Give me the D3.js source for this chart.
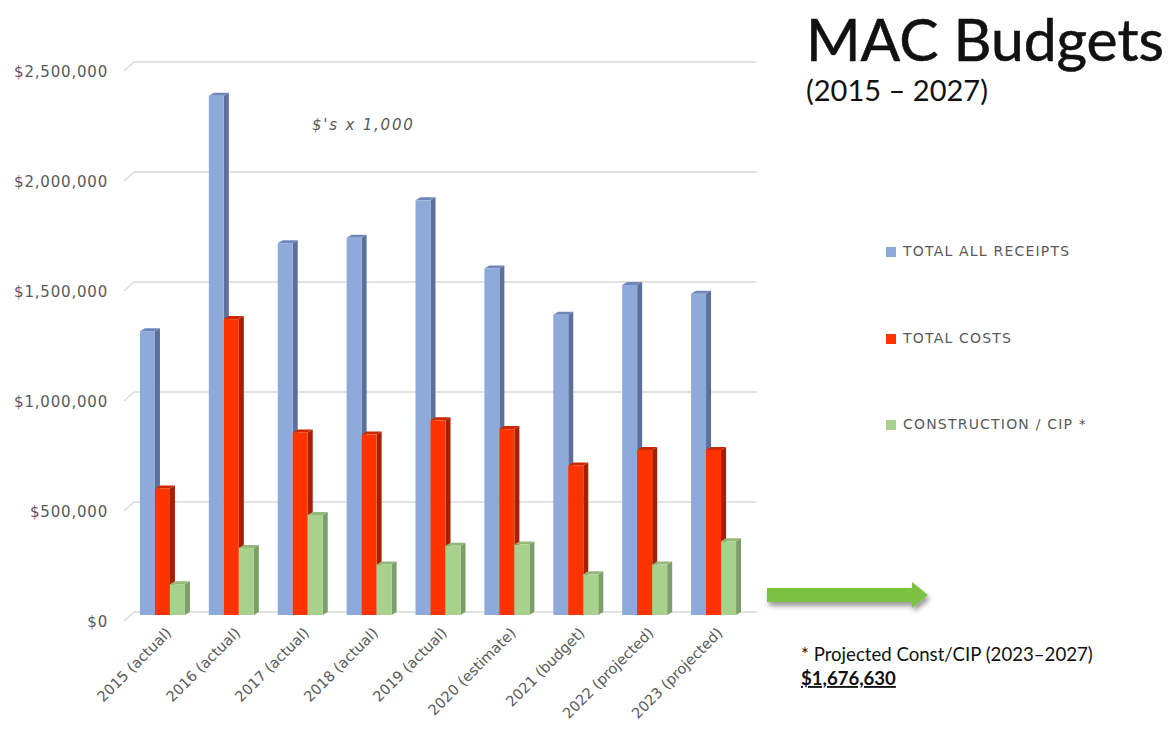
<!DOCTYPE html>
<html><head><meta charset="utf-8">
<script src="https://cdn.jsdelivr.net/npm/d3@7"></script>
<style>
html,body{margin:0;padding:0;background:#fff;}
svg{display:block;}
</style></head>
<body>
<svg id="chart" width="1170" height="738"></svg>
<script>
// ---- data ----
const categories = ["2015 (actual)","2016 (actual)","2017 (actual)","2018 (actual)","2019 (actual)","2020 (estimate)","2021 (budget)","2022 (projected)","2023 (projected)"];
const seriesNames = ["TOTAL ALL RECEIPTS","TOTAL COSTS","CONSTRUCTION / CIP *"];
const receipts = [1290000,2360000,1690000,1715000,1885000,1575000,1365000,1500000,1460000];
const costs = [575000,1345000,830000,820000,885000,845000,680000,750000,750000];
const construction = [140000,305000,455000,230000,315000,320000,185000,230000,335000];
const yTicks = [0,500000,1000000,1500000,2000000,2500000];

const seriesValues = [receipts, costs, construction];
const colors = [
  {front:"#8eaadb", side:"#5d7099", top:"#6f87b8"},
  {front:"#ff3300", side:"#a32000", top:"#c92800"},
  {front:"#a9d18e", side:"#7d9e68", top:"#93b87a"}
];

const svg = d3.select("#chart");
svg.append("rect").attr("width",1170).attr("height",738).attr("fill","#fff");

const defs = svg.append("defs");
const f = defs.append("filter").attr("id","shadow").attr("x","-10%").attr("y","-50%").attr("width","130%").attr("height","250%");
f.append("feDropShadow").attr("dx",2).attr("dy",4).attr("stdDeviation",2.5).attr("flood-color","#000").attr("flood-opacity",0.4);

function fitText(sel, target){
  const w = sel.node().getComputedTextLength();
  const fs = parseFloat(sel.attr("font-size"));
  sel.attr("font-size", fs*target/w);
}

// scales
const y = d3.scaleLinear().domain([0,2500000]).range([615,65]);
const x0 = d3.scaleBand().domain(categories).range([128,748]);
const barW = 15, depthX = 5, depthY = 3;
const x1 = d3.scaleBand().domain(seriesNames).range([0, barW*3]);

// gridlines (back wall with slanted left segment)
const grid = svg.append("g");
yTicks.forEach(v=>{
  const gy = y(v) - 3;
  grid.append("path")
    .attr("d",`M124,${gy+9} L134,${gy} L757,${gy}`)
    .attr("fill","none").attr("stroke","#d9d9d9").attr("stroke-width",1.3);
});

// y axis labels
const fmt = d => "$" + d3.format(",")(d);
svg.append("g").selectAll("text").data(yTicks).join("text")
  .attr("x",108).attr("y",d=>y(d)+7)
  .attr("text-anchor","end").attr("dominant-baseline","middle")
  .attr("font-family","'DejaVu Sans', sans-serif").attr("font-size",15).attr("letter-spacing",0.8)
  .attr("fill","#595959").text(fmt);

// bars
const bars = svg.append("g");
categories.forEach((c,i)=>{
  const gx = x0(c) + (x0.bandwidth() - barW*3)/2;
  seriesValues.forEach((vals,s)=>{
    const v = vals[i];
    const bx = gx + x1(seriesNames[s]);
    const top = y(v), bottom = y(0);
    const col = colors[s];
    const g = bars.append("g");
    g.append("path")
      .attr("d",`M${bx+barW},${top} L${bx+barW+depthX},${top-depthY} L${bx+barW+depthX},${bottom-depthY} L${bx+barW},${bottom} Z`)
      .attr("fill",col.side);
    g.append("path")
      .attr("d",`M${bx},${top} L${bx+depthX},${top-depthY} L${bx+barW+depthX},${top-depthY} L${bx+barW},${top} Z`)
      .attr("fill",col.top);
    g.append("rect").attr("x",bx).attr("y",top).attr("width",barW).attr("height",bottom-top).attr("fill",col.front);
  });
});

// x labels
svg.append("g").selectAll("text").data(categories).join("text")
  .attr("transform",c=>`translate(${x0(c)+x0.bandwidth()/2+7},${631}) rotate(-45)`)
  .attr("text-anchor","end").attr("dominant-baseline","middle")
  .attr("font-family","'DejaVu Sans', sans-serif").attr("font-size",14.5)
  .attr("fill","#595959").text(d=>d);

// units note
svg.append("text").attr("x",312).attr("y",130)
  .attr("font-family","'DejaVu Sans', sans-serif").attr("font-style","italic").attr("font-size",15).attr("letter-spacing",1.8)
  .attr("fill","#595959").text("$'s x 1,000");

// title
const title = svg.append("text").attr("x",806).attr("y",61)
  .attr("font-family","Lato, sans-serif").attr("font-size",58).attr("fill","#111")
  .attr("stroke","#111").attr("stroke-width",0.6)
  .text("MAC Budgets");
fitText(title, 358);
const sub = svg.append("text").attr("x",806).attr("y",101)
  .attr("font-family","Lato, sans-serif").attr("font-size",24).attr("fill","#111")
  .text("(2015 \u2013 2027)");
fitText(sub, 182);

// legend
const legendY = [252,339,425];
const lg = svg.append("g");
seriesNames.forEach((n,s)=>{
  lg.append("rect").attr("x",886).attr("y",legendY[s]-5).attr("width",10).attr("height",10).attr("fill",colors[s].front);
  lg.append("text").attr("x",903).attr("y",legendY[s]).attr("dominant-baseline","middle")
    .attr("font-family","'DejaVu Sans', sans-serif").attr("font-size",14).attr("letter-spacing",1.2)
    .attr("fill","#595959").text(n);
});

// arrow
svg.append("path")
  .attr("d","M767,588 L912,588 L912,582 L928,595 L912,608 L912,602 L767,602 Z")
  .attr("fill","#7cc242").attr("filter","url(#shadow)");

// footnote
const fn = svg.append("text").attr("x",801).attr("y",661)
  .attr("font-family","Lato, sans-serif").attr("font-size",17).attr("fill","#111")
  .text("* Projected Const/CIP (2023\u20132027)");
fitText(fn, 292);
const amt = svg.append("text").attr("x",801).attr("y",685)
  .attr("font-family","Lato, sans-serif").attr("font-size",17).attr("font-weight","bold").attr("fill","#111")
  .attr("text-decoration","underline")
  .text("$1,676,630");
fitText(amt, 95);
</script>
</body></html>
